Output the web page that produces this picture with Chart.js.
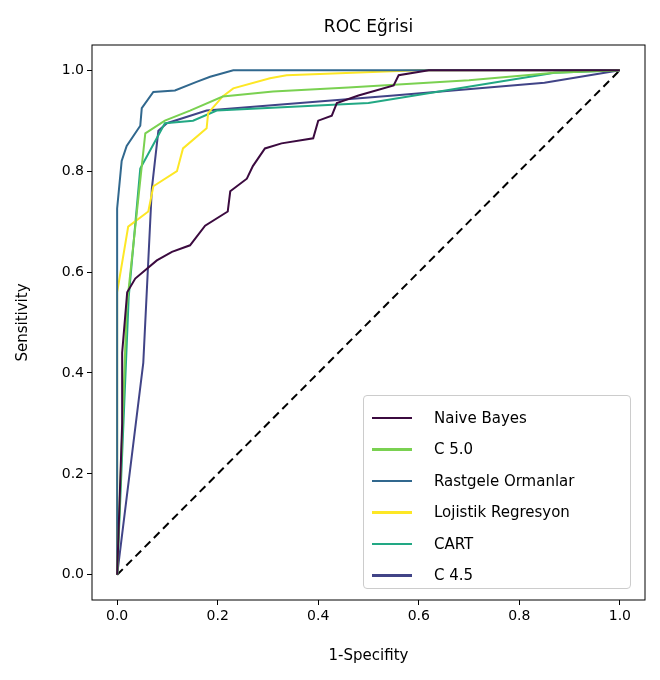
<!DOCTYPE html>
<html><head><meta charset="utf-8">
<script src="https://cdn.jsdelivr.net/npm/chart.js@4"></script>
<style>
body{margin:0;background:#fff;font-family:"DejaVu Sans",sans-serif}
#wrap{position:relative;width:660px;height:680px}
#title{position:absolute;top:16px;left:92px;width:553px;text-align:center;font-size:17px;color:#000}
#legend{position:absolute;left:363px;top:395px;width:268px;height:194px;border:1px solid #ccc;border-radius:4px;background:rgba(255,255,255,0.85);font-size:15px;box-sizing:border-box;padding:6px 0 0 8px}
#legend div{height:31.5px;display:flex;align-items:center}
#legend span.l{display:inline-block;width:40px;height:2.5px;margin-right:22px}
</style></head><body>
<div id="wrap"><canvas id="c" width="660" height="680"></canvas>
<div id="title">ROC Eğrisi</div><div id="legend"></div></div>
<script>
const names=["Naive Bayes","C 5.0","Rastgele Ormanlar","Lojistik Regresyon","CART","C 4.5"];
const colors=["#3b0a3f","#7ad151","#31688e","#fde725","#22a884","#414487"];
const nbX=[0,0.01,0.01,0.02,0.036,0.079,0.109,0.145,0.175,0.22,0.225,0.258,0.27,0.294,0.327,0.39,0.40,0.427,0.437,0.48,0.55,0.56,0.62,1];
const nbY=[0,0.3,0.44,0.56,0.587,0.623,0.64,0.653,0.692,0.72,0.76,0.785,0.81,0.845,0.855,0.865,0.9,0.91,0.935,0.95,0.97,0.99,1,1];
const c5X=[0,0.019,0.049,0.056,0.095,0.145,0.21,0.31,0.46,0.7,0.87,1];
const c5Y=[0,0.53,0.81,0.875,0.90,0.92,0.948,0.958,0.966,0.98,0.995,1];
const rfX=[0,0,0.009,0.019,0.046,0.049,0.072,0.115,0.158,0.185,0.231,1];
const rfY=[0,0.726,0.82,0.85,0.89,0.925,0.957,0.96,0.977,0.987,1,1];
const lrX=[0,0,0.022,0.062,0.072,0.119,0.131,0.178,0.181,0.21,0.231,0.304,0.337,0.6,1];
const lrY=[0,0.56,0.69,0.72,0.77,0.80,0.845,0.885,0.915,0.948,0.964,0.984,0.99,1,1];
const cartX=[0,0.023,0.046,0.095,0.151,0.198,0.5,0.87,1];
const cartY=[0,0.55,0.805,0.895,0.90,0.92,0.935,0.995,1];
const c45X=[0,0.052,0.069,0.082,0.099,0.178,0.55,0.85,1];
const c45Y=[0,0.42,0.765,0.88,0.895,0.92,0.95,0.975,1];
const xs=[nbX,c5X,rfX,lrX,cartX,c45X], ys=[nbY,c5Y,rfY,lrY,cartY,c45Y];
const ticks=[0,0.2,0.4,0.6,0.8,1.0];
const datasets=names.map((n,i)=>({label:n,data:xs[i].map((x,j)=>({x,y:ys[i][j]})),borderColor:colors[i],borderWidth:2,pointRadius:0,showLine:true,fill:false}));
datasets.push({label:"diag",data:[{x:0,y:0},{x:1,y:1}],borderColor:"#000",borderDash:[8,5],borderWidth:2,pointRadius:0,showLine:true});
const lg=document.getElementById('legend');
names.forEach((n,i)=>{lg.innerHTML+=`<div><span class="l" style="background:${colors[i]}"></span>${n}</div>`});
const frame={id:'frame',afterDraw(ch){const a=ch.chartArea,c=ch.ctx;c.save();c.strokeStyle='#000';c.lineWidth=1;c.strokeRect(a.left,a.top,a.right-a.left,a.bottom-a.top);c.restore();}};
const tf={size:14,family:"DejaVu Sans"};
new Chart(document.getElementById('c'),{type:'scatter',data:{datasets},plugins:[frame],
options:{responsive:false,animation:false,layout:{padding:{top:45,right:15,left:14,bottom:15}},
plugins:{legend:{display:false},tooltip:{enabled:false}},
scales:{
x:{type:'linear',min:-0.05,max:1.05,afterBuildTicks(s){s.ticks=ticks.map(v=>({value:v}))},afterFit(s){s.height=65},
 grid:{drawOnChartArea:false,tickLength:5,color:'#000'},border:{display:false},
 ticks:{color:'#000',font:tf,callback:v=>v.toFixed(1)},title:{display:true,text:'1-Specifity',color:'#000',font:{size:15,family:"DejaVu Sans"},padding:0}},
y:{type:'linear',min:-0.05,max:1.05,afterBuildTicks(s){s.ticks=ticks.map(v=>({value:v}))},afterFit(s){s.width=78},
 grid:{drawOnChartArea:false,tickLength:5,color:'#000'},border:{display:false},
 ticks:{color:'#000',font:tf,callback:v=>v.toFixed(1)},title:{display:true,text:'Sensitivity',color:'#000',font:{size:15,family:"DejaVu Sans"},padding:0}}
}}});
</script></body></html>
